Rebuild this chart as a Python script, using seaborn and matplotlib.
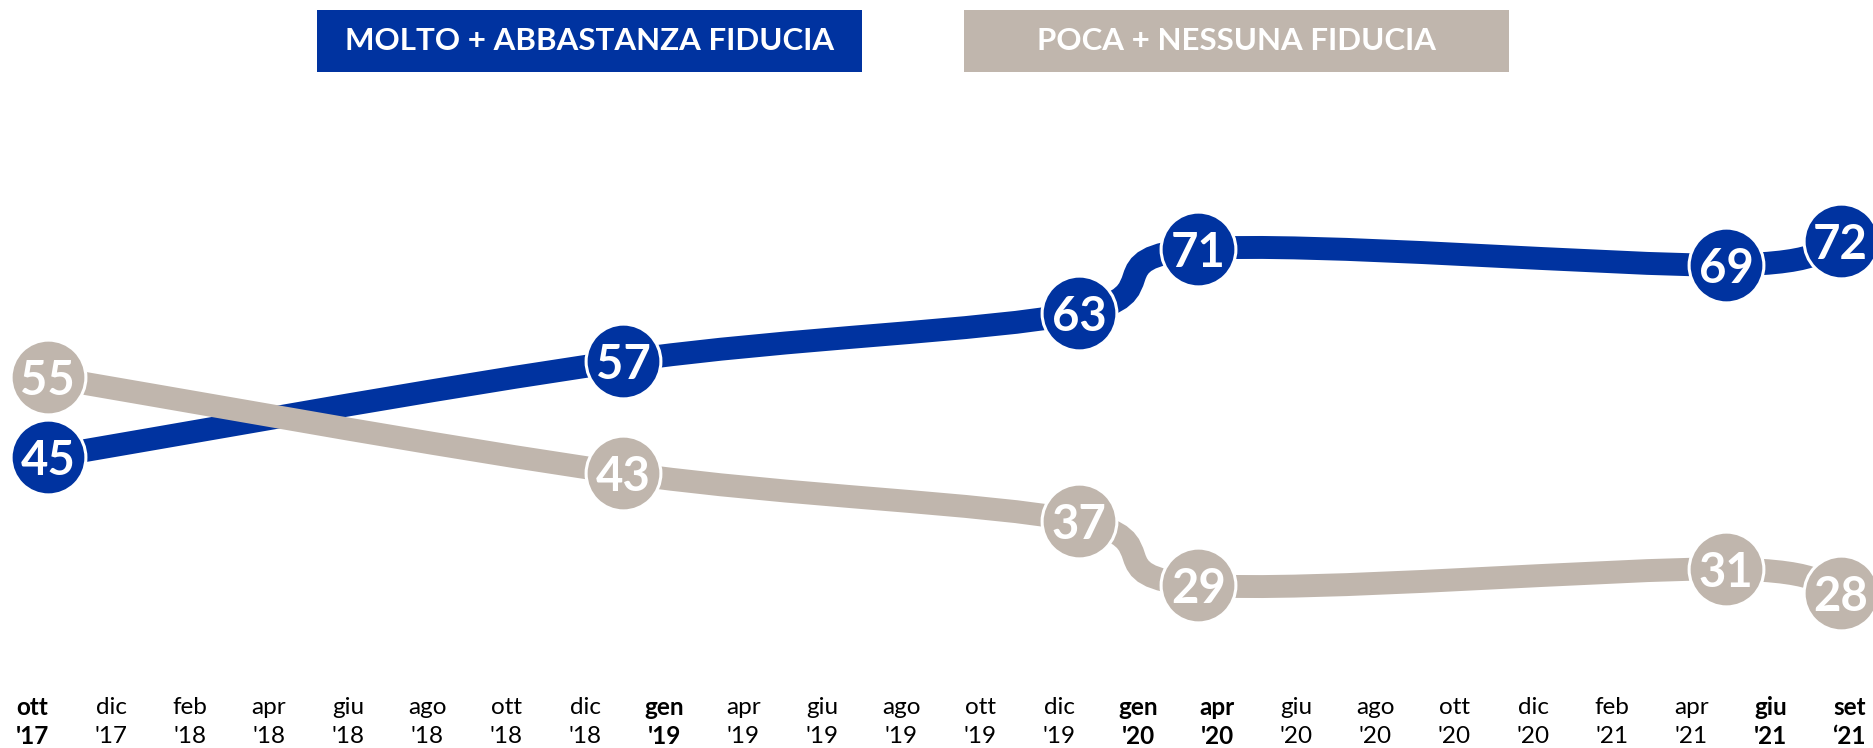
import numpy as np
import matplotlib.pyplot as plt
import seaborn as sns
from matplotlib.path import Path
from matplotlib.patches import PathPatch, Rectangle
from matplotlib.transforms import blended_transform_factory

# tick labels along the bottom (two lines each)
month_labels = ['ott', 'dic', 'feb', 'apr', 'giu', 'ago', 'ott', 'dic', 'gen', 'apr', 'giu', 'ago',
                'ott', 'dic', 'gen', 'apr', 'giu', 'ago', 'ott', 'dic', 'feb', 'apr', 'giu', 'set']
year_labels = ["'17", "'17", "'18", "'18", "'18", "'18", "'18", "'18", "'19", "'19", "'19", "'19",
               "'19", "'19", "'20", "'20", "'20", "'20", "'20", "'20", "'21", "'21", "'21", "\u201821"]
bold_ticks = [True, False, False, False, False, False, False, False, True, False, False, False,
              False, False, True, True, False, False, False, False, False, False, True, True]

# survey points (position on the tick scale) and values
point_pos = [0.2, 7.48, 13.25, 14.76, 21.44, 22.89]
fiducia_alta = [45, 57, 63, 71, 69, 72]    # molto + abbastanza
fiducia_bassa = [55, 43, 37, 29, 31, 28]   # poca + nessuna

series_names = ['MOLTO + ABBASTANZA FIDUCIA', 'POCA + NESSUNA FIDUCIA']
BLUE = '#0033a0'
GREY = '#c0b6ad'

sns.set_style('white')
plt.rcParams['font.family'] = ['Lato', 'DejaVu Sans']


def smooth_path(xs, ys):
    # catmull-rom style smoothing, like the "smoothed line" option in excel
    pts = np.column_stack([xs, ys]).astype(float)
    ext = np.vstack([pts[0], pts, pts[-1]])
    verts = [pts[0]]
    codes = [Path.MOVETO]
    for i in range(len(pts) - 1):
        p0, p1, p2, p3 = ext[i], ext[i + 1], ext[i + 2], ext[i + 3]
        verts += [p1 + (p2 - p0) / 6, p2 - (p3 - p1) / 6, p2]
        codes += [Path.CURVE4] * 3
    return Path(verts, codes)


fig = plt.figure(figsize=(18.73, 7.48), dpi=100)
ax = fig.add_axes([0, 0, 1, 1])
ax.set_xlim(-0.405, 23.30)
ax.set_ylim(8.625, 102.125)
ax.axis('off')

for vals, col, z in [(fiducia_alta, BLUE, 2), (fiducia_bassa, GREY, 3)]:
    ax.add_patch(PathPatch(smooth_path(point_pos, vals), facecolor='none', edgecolor=col,
                           lw=16.5, capstyle='butt', zorder=z))

for vals, col in [(fiducia_alta, BLUE), (fiducia_bassa, GREY)]:
    sns.scatterplot(x=point_pos, y=vals, s=2900, color=col, edgecolor='white', linewidth=2.2,
                    ax=ax, zorder=5, legend=False)
    for x, v in zip(point_pos, vals):
        ax.text(x, v, str(v), color='white', fontsize=34, fontweight='bold',
                ha='center', va='center_baseline', zorder=6)

# x labels
trans = blended_transform_factory(ax.transData, fig.transFigure)
for i, (m, y, b) in enumerate(zip(month_labels, year_labels, bold_ticks)):
    w = 'bold' if b else 'normal'
    ax.text(i, 0.0548, m, transform=trans, ha='center', va='center', fontsize=17.5,
            fontweight=w, color='black')
    ax.text(i, 0.016, y, transform=trans, ha='center', va='center', fontsize=17.5,
            fontweight=w, color='black')

# legend boxes on top
for name, col, x0 in [(series_names[0], BLUE, 0.1692), (series_names[1], GREY, 0.5147)]:
    fig.patches.append(Rectangle((x0, 0.9037), 0.2912, 0.0829, transform=fig.transFigure,
                                 facecolor=col, edgecolor='none'))
    fig.text(x0 + 0.1456, 0.945, name, color='white', fontsize=22.5, fontweight='bold',
             ha='center', va='center')

fig.savefig('out.png', dpi=100)
